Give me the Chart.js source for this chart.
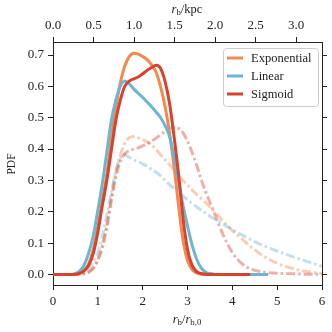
<!DOCTYPE html>
<html>
<head>
<meta charset="utf-8">
<script src="https://cdn.jsdelivr.net/npm/chart.js@4"></script>
<style>
  html, body { margin: 0; padding: 0; background: #fff; }
</style>
</head>
<body>
<canvas id="myChart" width="332" height="332"></canvas>
<script>
// r_b / r_b,0 sample positions (shared by all curves)
var xGrid = [0, 0.4, 0.5, 0.6, 0.7, 0.8, 0.9, 1.0, 1.1, 1.2, 1.3, 1.4, 1.5, 1.6, 1.7, 1.8, 1.9, 2.0,
  2.1, 2.2, 2.3, 2.4, 2.5, 2.6, 2.7, 2.8, 2.9, 3.0, 3.1, 3.2, 3.3, 3.4, 3.5, 3.6,
  3.8, 4.0, 4.2, 4.4, 4.6, 4.8, 5.0, 5.2, 5.4, 5.6, 5.8, 6.0];

// solid curves
var expSolid = [0, 0, 0.001, 0.005, 0.014, 0.035, 0.08, 0.155, 0.235, 0.32, 0.43, 0.53, 0.61, 0.665, 0.695, 0.706, 0.703, 0.695,
  0.685, 0.668, 0.645, 0.598, 0.535, 0.45, 0.345, 0.22, 0.11, 0.045, 0.016, 0.005, 0.001, 0, 0, 0,
  0, 0, 0, null, null, null, null, null, null, null, null, null];
var linSolid = [0, 0, 0.003, 0.012, 0.032, 0.07, 0.125, 0.205, 0.29, 0.39, 0.49, 0.555, 0.6, 0.617, 0.608, 0.592, 0.578, 0.565,
  0.55, 0.535, 0.518, 0.5, 0.475, 0.44, 0.375, 0.3, 0.22, 0.155, 0.095, 0.05, 0.022, 0.008, 0.003, 0.001,
  0, 0, 0, 0, 0, 0, null, null, null, null, null, null];
var sigSolid = [0, 0, 0.001, 0.004, 0.012, 0.03, 0.068, 0.135, 0.22, 0.3, 0.395, 0.49, 0.555, 0.6, 0.617, 0.624, 0.63, 0.64,
  0.651, 0.66, 0.667, 0.657, 0.615, 0.545, 0.44, 0.32, 0.18, 0.08, 0.03, 0.01, 0.003, 0.001, 0, 0,
  0, 0, 0, 0, null, null, null, null, null, null, null, null];

// dash-dot curves
var expDash = [0, 0, 0, 0.001, 0.003, 0.008, 0.022, 0.05, 0.095, 0.16, 0.245, 0.325, 0.38, 0.418, 0.436, 0.44, 0.436, 0.43,
  0.423, 0.413, 0.398, 0.382, 0.366, 0.35, 0.333, 0.316, 0.3, 0.285, 0.27, 0.256, 0.243, 0.23, 0.215, 0.2,
  0.17, 0.14, 0.115, 0.09, 0.068, 0.05, 0.036, 0.025, 0.017, 0.011, 0.007, 0.004];
var linDash = [0, 0, 0.001, 0.003, 0.008, 0.02, 0.04, 0.07, 0.12, 0.19, 0.26, 0.33, 0.372, 0.382, 0.374, 0.366, 0.36, 0.353,
  0.345, 0.336, 0.326, 0.315, 0.3, 0.287, 0.275, 0.263, 0.25, 0.238, 0.227, 0.216, 0.206, 0.196, 0.186, 0.177,
  0.16, 0.143, 0.127, 0.112, 0.098, 0.086, 0.075, 0.064, 0.054, 0.045, 0.035, 0.026];
var sigDash = [0, 0, 0, 0.001, 0.003, 0.008, 0.02, 0.045, 0.085, 0.15, 0.235, 0.31, 0.36, 0.385, 0.395, 0.4, 0.404, 0.41,
  0.417, 0.425, 0.435, 0.446, 0.457, 0.466, 0.47, 0.466, 0.452, 0.425, 0.39, 0.35, 0.305, 0.265, 0.23, 0.195,
  0.125, 0.07, 0.036, 0.018, 0.01, 0.006, 0.004, 0.003, 0.002, 0.001, 0.001, 0];

var seriesNames = ["Exponential", "Linear", "Sigmoid"];
var xTicks = [0, 1, 2, 3, 4, 5, 6];
var kpcTicks = [0.0, 0.5, 1.0, 1.5, 2.0, 2.5, 3.0];
var yTicks = [0.0, 0.1, 0.2, 0.3, 0.4, 0.5, 0.6, 0.7];
var rb0Kpc = 0.553; // kpc per r_b,0

var COL_EXP = "rgb(240,138,80)";
var COL_LIN = "rgb(108,182,208)";
var COL_SIG = "rgb(215,67,47)";
var FONT = "'Liberation Serif', serif";
var INK = "#222";

function pts(ys) {
  return xGrid.map(function (x, i) { return { x: x, y: ys[i] }; });
}
function fade(c, a) {
  return c.replace("rgb(", "rgba(").replace(")", "," + a + ")");
}

function solid(label, ys, color, order) {
  return { label: label, data: pts(ys), borderColor: color, borderWidth: 3, pointRadius: 0,
    cubicInterpolationMode: "monotone", fill: false, order: order, spanGaps: false, legendShow: true };
}
function dashed(ys, color, order) {
  return { label: "", data: pts(ys), borderColor: fade(color, 0.42), borderWidth: 3, pointRadius: 0,
    borderDash: [9, 3, 2.5, 3], borderCapStyle: "butt",
    cubicInterpolationMode: "monotone", fill: false, order: order };
}

// draws text made of parts, some italic / subscript, centred on (cx, cy)
function drawParts(ctx, parts, cx, cy, size) {
  var w = 0;
  parts.forEach(function (p) {
    var s = p.sub ? size * 0.7 : size;
    ctx.font = (p.italic ? "italic " : "") + s + "px " + FONT;
    p.w = ctx.measureText(p.t).width;
    w += p.w;
  });
  var x = cx - w / 2;
  ctx.textAlign = "left";
  ctx.textBaseline = "middle";
  parts.forEach(function (p) {
    var s = p.sub ? size * 0.7 : size;
    ctx.font = (p.italic ? "italic " : "") + s + "px " + FONT;
    ctx.fillText(p.t, x, cy + (p.sub ? size * 0.25 : 0));
    x += p.w;
  });
}

var extras = {
  id: "extras",
  afterDraw: function (chart) {
    var ctx = chart.ctx;
    ctx.save();
    ctx.fillStyle = INK;
    // axis titles
    drawParts(ctx, [{ t: "r", italic: true }, { t: "b", sub: true }, { t: "/kpc" }], 187, 10, 12.5);
    drawParts(ctx, [{ t: "r", italic: true }, { t: "b", sub: true }, { t: "/" },
      { t: "r", italic: true }, { t: "b,0", sub: true }], 187, 320, 12.5);
    ctx.save();
    ctx.translate(12, 164);
    ctx.rotate(-Math.PI / 2);
    drawParts(ctx, [{ t: "PDF" }], 0, 0, 11.5);
    ctx.restore();

    // legend box
    var bx = 223, by = 48, bw = 95, bh = 58;
    ctx.beginPath();
    ctx.roundRect(bx + 0.5, by + 0.5, bw, bh, 3);
    ctx.fillStyle = "rgba(255,255,255,0.8)";
    ctx.fill();
    ctx.strokeStyle = "#cccccc";
    ctx.lineWidth = 1;
    ctx.stroke();
    var items = chart.data.datasets.filter(function (d) { return d.legendShow; });
    items.sort(function (a, b) { return seriesNames.indexOf(a.label) - seriesNames.indexOf(b.label); });
    items.forEach(function (d, i) {
      var yy = 58 + i * 18;
      ctx.beginPath();
      ctx.moveTo(227, yy);
      ctx.lineTo(243, yy);
      ctx.strokeStyle = d.borderColor;
      ctx.lineWidth = 3;
      ctx.stroke();
      ctx.fillStyle = INK;
      ctx.font = "12.5px " + FONT;
      ctx.textAlign = "left";
      ctx.textBaseline = "middle";
      ctx.fillText(d.label, 251, yy + 0.5);
    });
    ctx.restore();
  }
};

function axisCommon(ticksArr, fmt, showLabels) {
  return {
    type: "linear",
    afterBuildTicks: function (scale) {
      scale.ticks = ticksArr.map(function (v) { return { value: v }; });
    },
    ticks: {
      display: showLabels,
      color: INK,
      font: { family: FONT, size: 13 },
      padding: 4,
      maxRotation: 0,
      autoSkip: false,
      callback: function (v) { return fmt(v); }
    },
    grid: { drawOnChartArea: false, drawTicks: true, tickLength: 5, tickColor: INK, tickWidth: 1 },
    border: { display: true, color: INK, width: 1 }
  };
}

var ctx = document.getElementById("myChart").getContext("2d");

var xBottom = axisCommon(xTicks, function (v) { return String(v); }, true);
xBottom.position = "bottom"; xBottom.min = 0; xBottom.max = 6;
xBottom.afterFit = function (s) { s.height = 47; };

var xTop = axisCommon(kpcTicks, function (v) { return v.toFixed(1); }, true);
xTop.position = "top"; xTop.min = 0; xTop.max = 6 * rb0Kpc;
xTop.afterFit = function (s) { s.height = 42; };

var yLeft = axisCommon(yTicks, function (v) { return v.toFixed(1); }, true);
yLeft.position = "left"; yLeft.min = -0.0335; yLeft.max = 0.7415;
yLeft.afterFit = function (s) { s.width = 53; };

var yRight = axisCommon(yTicks, function (v) { return ""; }, false);
yRight.position = "right"; yRight.min = -0.0335; yRight.max = 0.7415;
yRight.afterFit = function (s) { s.width = 10; };

var myChart = new Chart(ctx, {
  type: "line",
  data: {
    datasets: [
      solid(seriesNames[2], sigSolid, COL_SIG, 1),
      solid(seriesNames[1], linSolid, COL_LIN, 2),
      solid(seriesNames[0], expSolid, COL_EXP, 3),
      dashed(sigDash, COL_SIG, 4),
      dashed(linDash, COL_LIN, 5),
      dashed(expDash, COL_EXP, 6)
    ]
  },
  options: {
    responsive: false,
    animation: false,
    devicePixelRatio: 1,
    layout: { padding: 0 },
    plugins: { legend: { display: false }, tooltip: { enabled: false } },
    scales: { x: xBottom, x2: xTop, y: yLeft, y2: yRight }
  },
  plugins: [extras]
});
</script>
</body>
</html>
